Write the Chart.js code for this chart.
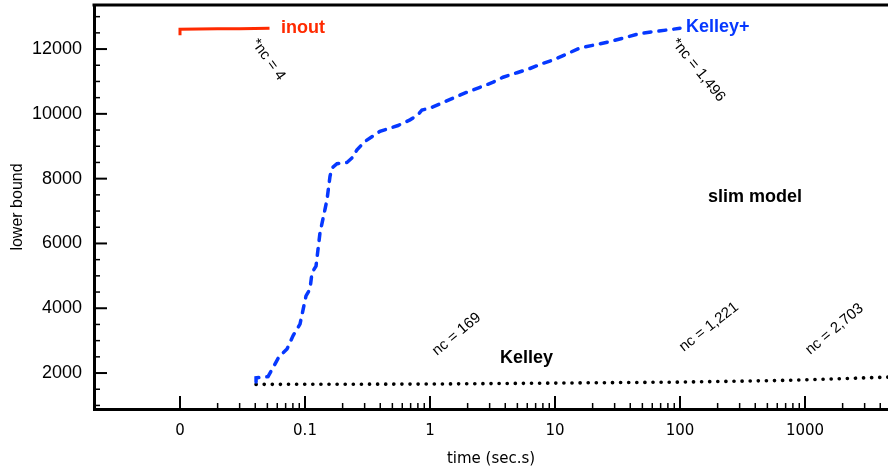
<!DOCTYPE html>
<html>
<head>
<meta charset="utf-8">
<script src="https://cdn.jsdelivr.net/npm/chart.js@4"></script>
<style>
  html, body { margin: 0; padding: 0; background: #fff; }
</style>
</head>
<body>
<canvas id="boundChart" width="888" height="473"></canvas>
<script>
// times are seconds, 0 sits in the "0" slot one decade left of 0.1
const inoutTime = [0, 0, 0.02, 0.03, 0.052];
const inoutBound = [12430, 12615, 12625, 12630, 12640];

const kelleyPlusTime = [0.0406, 0.0406, 0.0506, 0.0619, 0.0718, 0.0802, 0.0912, 0.1019, 0.1096, 0.1138,
  0.1225, 0.1318, 0.1445, 0.150, 0.1585, 0.1644, 0.1803, 0.2168, 0.2377, 0.2606,
  0.302, 0.398, 0.479, 0.555, 0.692, 0.802, 0.863, 1.0, 1.27, 1.58,
  1.98, 2.51, 3.13, 3.84, 4.97, 6.31, 8.02, 9.64, 15.8, 27.5,
  47.9, 65.5, 100];
const kelleyPlusBound = [1720, 1850, 1890, 2500, 2740, 3150, 3510, 4380, 4590, 5100,
  5300, 6330, 7050, 7350, 8070, 8330, 8460, 8500, 8640, 8890,
  9150, 9460, 9560, 9640, 9815, 9970, 10120, 10175, 10350, 10510,
  10670, 10820, 10960, 11130, 11270, 11400, 11560, 11660, 12030, 12230,
  12480, 12550, 12640];

const kelleyTime = [0.0406, 1, 10, 100, 631, 1585, 4600];
const kelleyBound = [1650, 1660, 1690, 1720, 1770, 1815, 1875];

const xTickTimes = [0, 0.1, 1, 10, 100, 1000];
const xTickLabels = ["0", "0.1", "1", "10", "100", "1000"];
const yTickValues = [2000, 4000, 6000, 8000, 10000, 12000];

const noteText = ["inout", "Kelley+", "slim model", "Kelley", "*nc = 4", "*nc = 1,496", "nc = 169", "nc = 1,221", "nc = 2,703"];
const noteTime = [0.0643, 111.7, 167.5, 3.63, 0.037, 84.7, 1.14, 107, 1100];
const noteBound = [12494, 12525, 7278, 2309, 12185, 12185, 2525, 2648, 2556];
const noteAngle = [0, 0, 0, 0, 54, 51, -40, -38, -40];
const noteKind = ["red", "blue", "bold", "bold", "nc", "nc", "nc", "nc", "nc"];

const RED = "#ff2a00";
const BLUE = "#0638ff";

function logPos(t) {
  return t <= 0 ? -2 : Math.log10(t);
}

function points(times, bounds) {
  return times.map((t, i) => ({ x: logPos(t), y: bounds[i] }));
}

// inward tick marks, top frame line and the text notes
const decorPlugin = {
  id: "decor",
  afterDraw(chart) {
    const c = chart.ctx;
    const xs = chart.scales.x;
    const ys = chart.scales.y;
    const area = chart.chartArea;
    c.save();
    c.strokeStyle = "#000";

    for (let d = -2; d <= 3; d++) {
      for (let k = 1; k <= 9; k++) {
        const v = d + Math.log10(k);
        if (v > xs.max) break;
        const px = xs.getPixelForValue(v);
        const len = k === 1 ? 13 : 6;
        c.lineWidth = k === 1 ? 2 : 1.5;
        c.beginPath();
        c.moveTo(px, area.bottom);
        c.lineTo(px, area.bottom - len);
        c.stroke();
      }
    }
    for (let v = 1000; v <= 13000; v += 500) {
      const py = ys.getPixelForValue(v);
      const major = v % 2000 === 0;
      c.lineWidth = major ? 2 : 1.5;
      c.beginPath();
      c.moveTo(area.left, py);
      c.lineTo(area.left + (major ? 13 : 6), py);
      c.stroke();
    }

    c.lineWidth = 3;
    c.beginPath();
    c.moveTo(area.left - 1.5, area.top);
    c.lineTo(area.right, area.top);
    c.stroke();

    noteText.forEach((txt, i) => {
      const kind = noteKind[i];
      c.save();
      c.translate(xs.getPixelForValue(logPos(noteTime[i])), ys.getPixelForValue(noteBound[i]));
      c.rotate(noteAngle[i] * Math.PI / 180);
      c.textAlign = "left";
      c.textBaseline = "alphabetic";
      if (kind === "nc") {
        c.font = "15px 'Liberation Sans', Arial, sans-serif";
        c.fillStyle = "#000";
      } else {
        c.font = "bold 18px 'Liberation Sans', Arial, sans-serif";
        c.fillStyle = kind === "red" ? RED : kind === "blue" ? BLUE : "#000";
      }
      c.fillText(txt, 0, 0);
      c.restore();
    });
    c.restore();
  }
};

const ctx = document.getElementById("boundChart").getContext("2d");
const chart = new Chart(ctx, {
  type: "line",
  data: {
    datasets: [{
      label: "inout",
      data: points(inoutTime, inoutBound),
      borderColor: RED,
      borderWidth: 3,
      pointRadius: 0
    }, {
      label: "Kelley+",
      data: points(kelleyPlusTime, kelleyPlusBound),
      borderColor: BLUE,
      borderWidth: 3.5,
      borderDash: [7, 8],
      borderCapStyle: "round",
      pointRadius: 0
    }, {
      label: "Kelley",
      data: points(kelleyTime, kelleyBound),
      borderColor: "#000",
      borderWidth: 3.6,
      borderDash: [0.1, 8],
      borderCapStyle: "round",
      pointRadius: 0
    }]
  },
  options: {
    responsive: false,
    animation: false,
    layout: { padding: { top: 5, left: 0, right: 0, bottom: 0 } },
    plugins: {
      legend: { display: false },
      tooltip: { enabled: false }
    },
    scales: {
      x: {
        type: "linear",
        min: -2.688,
        max: 3.664,
        afterFit(scale) {
          scale.height = 64;
          scale.paddingLeft = 0;
          scale.paddingRight = 0;
        },
        afterBuildTicks(scale) {
          scale.ticks = xTickTimes.map(t => ({ value: logPos(t) }));
        },
        grid: { display: false, drawTicks: false },
        border: { display: true, color: "#000", width: 3 },
        ticks: {
          color: "#000",
          padding: 13,
          maxRotation: 0,
          font: { family: "'DejaVu Sans', sans-serif", size: 15 },
          callback: (v, i) => xTickLabels[i]
        },
        title: {
          display: true,
          text: "time (sec.s)",
          color: "#000",
          padding: { top: 0, bottom: 5 },
          font: { family: "'DejaVu Sans', sans-serif", size: 15 }
        }
      },
      y: {
        type: "linear",
        min: 890,
        max: 13360,
        afterFit(scale) {
          scale.width = 94;
          scale.paddingTop = 0;
          scale.paddingBottom = 0;
        },
        afterBuildTicks(scale) {
          scale.ticks = yTickValues.map(v => ({ value: v }));
        },
        grid: { display: false, drawTicks: false },
        border: { display: true, color: "#000", width: 3 },
        ticks: {
          color: "#000",
          padding: 12,
          font: { family: "'Liberation Sans', Arial, sans-serif", size: 18 },
          callback: v => String(v)
        },
        title: {
          display: true,
          text: "lower bound",
          color: "#000",
          padding: { top: 8, bottom: 0 },
          font: { family: "'Liberation Sans', Arial, sans-serif", size: 16 }
        }
      }
    }
  },
  plugins: [decorPlugin]
});
</script>
</body>
</html>
